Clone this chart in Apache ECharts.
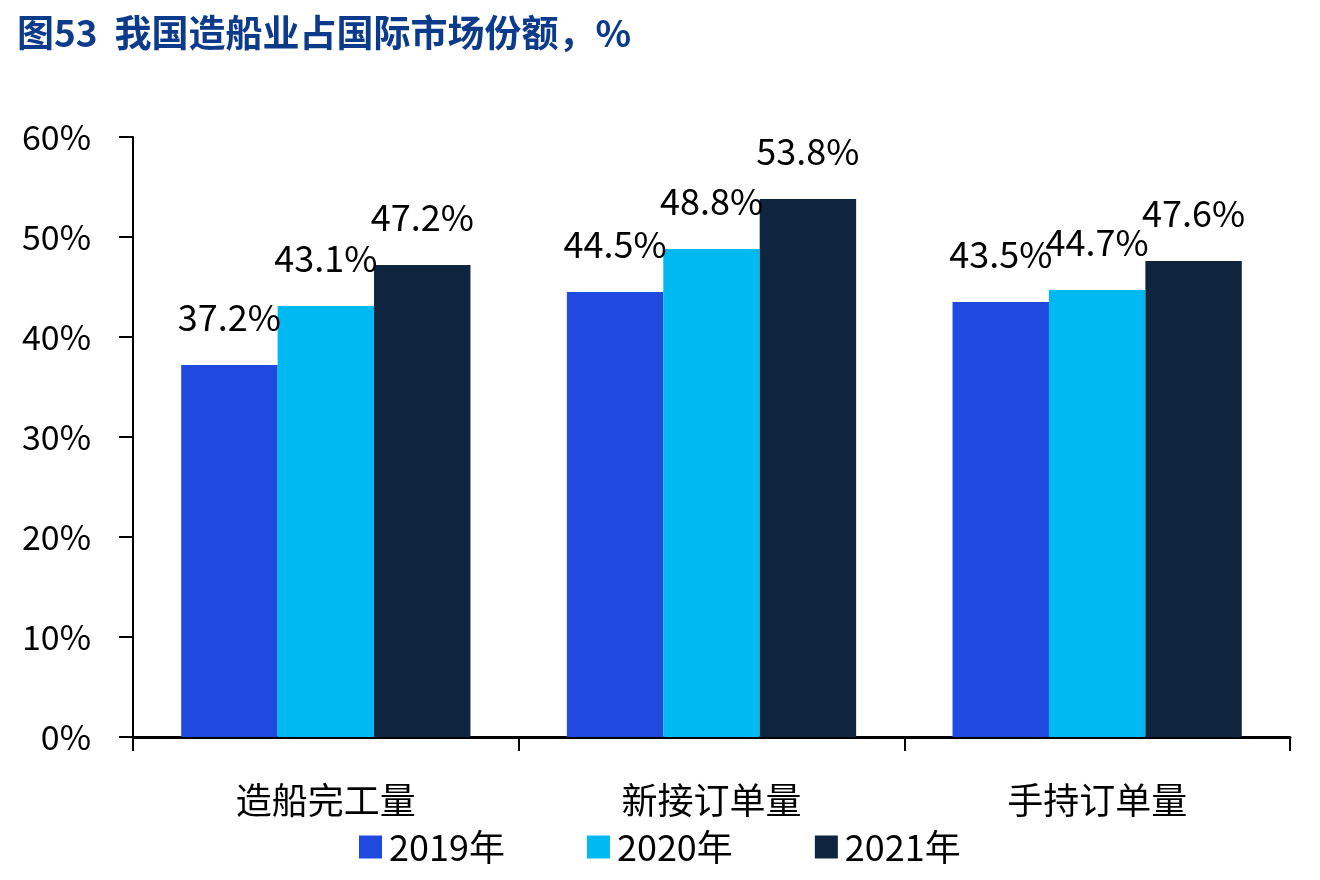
<!DOCTYPE html>
<html>
<head>
<meta charset="utf-8">
<script src="https://cdn.jsdelivr.net/npm/echarts@6/dist/echarts.min.js"></script>
<style>
  html, body { margin: 0; padding: 0; background: #fff; }
  #chart { width: 1320px; height: 880px; }
</style>
</head>
<body>
<div id="chart"></div>
<script>
const categories = ["造船完工量", "新接订单量", "手持订单量"];
const seriesNames = ["2019年", "2020年", "2021年"];
const values2019 = [37.2, 44.5, 43.5];
const values2020 = [43.1, 48.8, 44.7];
const values2021 = [47.2, 53.8, 47.6];
const colors = ["#2049E0", "#00B9F2", "#0F243E"];

const font = "Noto Sans CJK SC";
const chartElement = document.getElementById("chart");
const chart = echarts.init(chartElement);

function makeSeries(name, data) {
  return {
    name: name,
    type: "bar",
    data: data,
    barGap: "0%",
    barCategoryGap: "25%",
    label: {
      show: true,
      position: "top",
      distance: 30,
      color: "#000",
      fontFamily: font,
      fontSize: 36,
      formatter: (p) => `${p.value.toFixed(1)}%`,
    },
  };
}

chart.setOption({
  animation: false,
  color: colors,
  title: {
    text: "图53  我国造船业占国际市场份额，%",
    left: 12,
    top: 9,
    textStyle: {
      color: "#0D3B8C",
      fontFamily: font,
      fontWeight: "bold",
      fontSize: 37,
    },
  },
  legend: {
    left: 354,
    top: 824,
    itemWidth: 23,
    itemHeight: 23,
    itemGap: 82,
    icon: "rect",
    textStyle: { color: "#000", fontFamily: font, fontSize: 36, padding: [0, 0, 0, 2] },
  },
  grid: { left: 133, right: 30, top: 137, bottom: 143 },
  xAxis: {
    type: "category",
    data: categories,
    axisLine: { lineStyle: { color: "#000", width: 3 } },
    axisTick: { show: true, length: 14, lineStyle: { color: "#000", width: 2 } },
    axisLabel: { color: "#000", fontFamily: font, fontSize: 36, margin: 45 },
  },
  yAxis: {
    type: "value",
    min: 0,
    max: 60,
    interval: 10,
    axisLine: { show: true, lineStyle: { color: "#000", width: 2 } },
    axisTick: { show: true, length: 14, lineStyle: { color: "#000", width: 2 } },
    axisLabel: { color: "#000", fontFamily: font, fontSize: 34, margin: 42, formatter: "{value}%" },
    splitLine: { show: false },
  },
  series: [
    makeSeries(seriesNames[0], values2019),
    makeSeries(seriesNames[1], values2020),
    makeSeries(seriesNames[2], values2021),
  ],
});
</script>
</body>
</html>
